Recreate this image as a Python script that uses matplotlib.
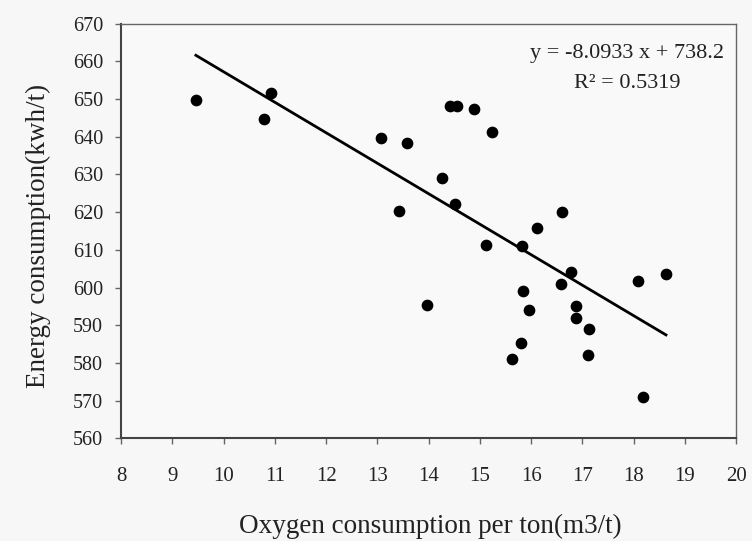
import numpy as np
import matplotlib
matplotlib.use('Agg')
import matplotlib.pyplot as plt

plt.rcParams['font.family'] = ['Liberation Serif', 'DejaVu Serif']

# oxygen consumption per ton (m3/t) and energy consumption (kwh/t)
oxygen = [9.46, 10.93, 10.78, 13.07, 13.57, 13.43,
          14.42, 14.55, 14.89, 15.23, 14.27, 14.52, 16.61, 16.11,
          15.12, 15.82, 16.78, 16.59, 18.09, 18.63, 13.96, 15.85,
          15.96, 16.87, 16.87, 17.13, 15.80, 15.62, 17.10, 18.18]
energy = [649.8, 651.6, 644.7, 639.6, 638.3, 620.3,
          648.3, 648.3, 647.4, 641.2, 629.2, 622.3, 620.1, 615.8,
          611.2, 611.0, 604.0, 601.0, 601.7, 603.7, 595.3, 599.1,
          594.1, 595.0, 592.0, 588.9, 585.4, 581.1, 582.0, 570.9]

slope = -8.0933
intercept = 738.2
r2 = 0.5319

fig = plt.figure(figsize=(7.52, 5.41), dpi=100)
fig.patch.set_facecolor('#f7f7f7')
ax = fig.add_axes([0.161, 0.19, 0.818, 0.766])
ax.set_facecolor('#f9f9f9')

ax.scatter(oxygen, energy, s=55, color='black', zorder=3)

# trend line over the data range
xs = np.array([min(oxygen), max(oxygen)])
ax.plot(xs, slope * xs + intercept, color='black', linewidth=2)

ax.set_xlim(8, 20)
ax.set_ylim(560, 670)
ax.set_xticks(range(8, 21))
ax.set_yticks(range(560, 671, 10))

for side in ['left', 'bottom']:
    ax.spines[side].set_color('#444444')
    ax.spines[side].set_linewidth(1.5)
for side in ['top', 'right']:
    ax.spines[side].set_color('#666666')
    ax.spines[side].set_linewidth(1.0)

ax.tick_params(axis='x', direction='out', length=4, width=1, color='#666666',
               pad=17, labelsize=15, labelcolor='#222222')
ax.tick_params(axis='y', direction='out', length=4, width=1, color='#666666',
               pad=9, labelsize=14.5, labelcolor='#222222')

ax.text(0.823, 0.928, 'y = -8.0933 x + 738.2', transform=ax.transAxes,
        ha='center', va='center', fontsize=16, color='#222222')
ax.text(0.823, 0.855, 'R² = %.4f' % r2, transform=ax.transAxes,
        ha='center', va='center', fontsize=16, color='#222222')

fig.text(430 / 752, 1 - 533 / 541, 'Oxygen consumption per ton(m3/t)',
         ha='center', va='baseline', fontsize=19.5, color='#222222')
fig.text(38 / 752, 1 - 236 / 541, 'Energy consumption(kwh/t)',
         ha='center', va='center', rotation=90, fontsize=19.5, color='#222222')

fig.savefig('out.png', dpi=100, facecolor=fig.get_facecolor())
